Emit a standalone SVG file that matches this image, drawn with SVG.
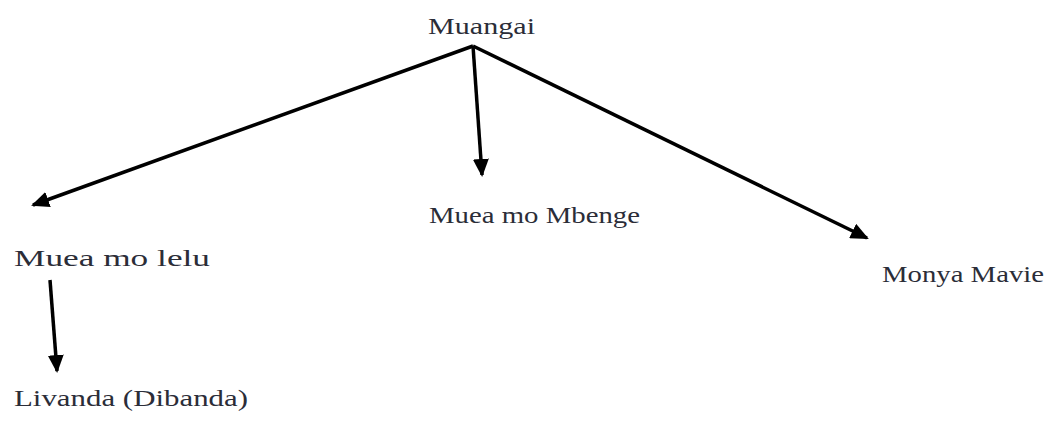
<svg xmlns="http://www.w3.org/2000/svg" width="1062" height="425" viewBox="0 0 1062 425">
<style>
.t{font-family:"Liberation Serif","Times New Roman",serif;font-size:23px;fill:#2b2d38}
.c{stroke:#000;stroke-width:3.5;fill:none;marker-end:url(#ah)}
</style>
<defs>
<marker id="ah" markerUnits="userSpaceOnUse" markerWidth="18" markerHeight="16" refX="16" refY="8" orient="auto" viewBox="0 0 18 16">
<path d="M0,0 L18,8 L0,16 Z" fill="#000"/>
</marker>
</defs>
<rect width="1062" height="425" fill="#fff"/>
<g id="connectors">
<line class="c" x1="473" y1="46" x2="33" y2="205"/>
<line class="c" x1="473" y1="46" x2="482" y2="175"/>
<line class="c" x1="473" y1="46" x2="867" y2="238"/>
<line class="c" x1="50" y1="280" x2="57" y2="371"/>
</g>
<g id="n-muangai"><text class="t" x="428" y="34" textLength="107" lengthAdjust="spacingAndGlyphs">Muangai</text></g>
<g id="n-lelu"><text class="t" x="14" y="266" textLength="196" lengthAdjust="spacingAndGlyphs">Muea mo lelu</text></g>
<g id="n-mbenge"><text class="t" x="429" y="223" textLength="211" lengthAdjust="spacingAndGlyphs">Muea mo Mbenge</text></g>
<g id="n-monya"><text class="t" x="882" y="282" textLength="162" lengthAdjust="spacingAndGlyphs">Monya Mavie</text></g>
<g id="n-livanda"><text class="t" x="14" y="406" textLength="234" lengthAdjust="spacingAndGlyphs">Livanda (Dibanda)</text></g>
</svg>
